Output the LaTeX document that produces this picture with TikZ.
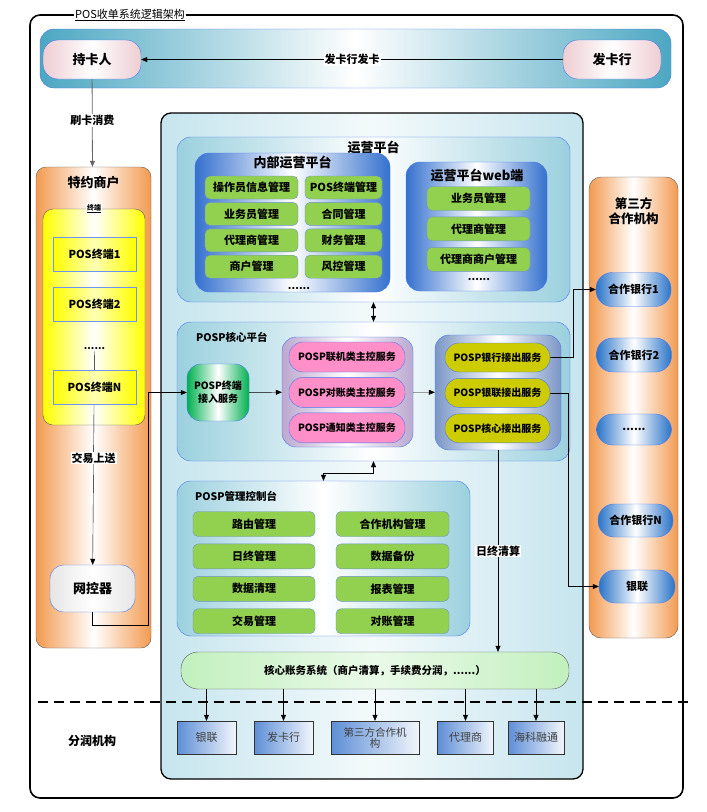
\documentclass[tikz,border=0pt]{standalone}
\usepackage{fontspec}
\setmainfont{Noto Sans CJK SC}
\usetikzlibrary{arrows.meta,positioning,fit}

\definecolor{blueb}{HTML}{4A78EE}
\definecolor{tealc}{HTML}{4CA7C2}
\definecolor{pinkc}{HTML}{EECDD2}
\definecolor{mainc}{HTML}{C6E5EE}
\definecolor{grpc}{HTML}{9BD0DE}
\definecolor{royal}{HTML}{3571CE}
\definecolor{itemg}{HTML}{92D050}
\definecolor{itemb}{HTML}{6F93C8}
\definecolor{pinkp}{HTML}{FF8FC9}
\definecolor{lav}{HTML}{BBA8D0}
\definecolor{slate}{HTML}{7B96C6}
\definecolor{olive}{HTML}{CCCC00}
\definecolor{accg}{HTML}{00B050}
\definecolor{orng}{HTML}{F39A50}
\definecolor{yel}{HTML}{FFFF00}
\definecolor{bankc}{HTML}{2A74C8}
\definecolor{lgreen}{HTML}{C2F0BE}
\definecolor{botb}{HTML}{5D8ED6}

\begin{document}
\begin{tikzpicture}[x=1pt,y=-1pt,>={Triangle[length=6pt,width=5pt]},
  area/.style={inner sep=0pt},
  grp/.style={area,draw=blueb,rounded corners=14pt,left color=grpc,right color=grpc,middle color=white},
  ttl/.style={inner sep=0pt,font=\bfseries\fontsize{13}{15}\selectfont},
  stl/.style={inner sep=0pt,font=\bfseries\fontsize{10.5}{12}\selectfont},
  itm/.style={draw=itemb,fill=itemg,rounded corners=5pt,inner sep=0pt,minimum width=#1,font=\bfseries\fontsize{11}{13}\selectfont},
  posbox/.style={draw=blueb!80,left color=yel,right color=yel,middle color=yel!30,minimum width=83pt,minimum height=34pt,inner sep=0pt,font=\bfseries\fontsize{11}{13}\selectfont},
  pinkpill/.style={draw=blueb,fill=pinkp,rounded corners=14pt,minimum width=116pt,minimum height=30pt,inner sep=0pt,font=\bfseries\fontsize{10}{12}\selectfont},
  olivepill/.style={draw=blueb,fill=olive,rounded corners=14pt,minimum width=105pt,minimum height=29pt,inner sep=0pt,font=\bfseries\fontsize{10}{12}\selectfont},
  bankpill/.style={draw=blueb,left color=bankc,right color=bankc,middle color=white,rounded corners=16pt,minimum width=75pt,minimum height=34pt,inner sep=0pt,font=\bfseries\fontsize{11}{13}\selectfont},
  share/.style={draw=black!80,left color=botb,right color=botb!8,minimum height=33pt,inner sep=0pt,align=center,text=black!75,font=\fontsize{11}{12}\selectfont},
  lbl/.style={fill=white,inner sep=1pt,font=\bfseries\fontsize{11}{13}\selectfont}]
\useasboundingbox (0,0) rectangle (707,812);

% outer frame
\node (frame) [area,fit={(30,15) (683,798)},draw,line width=1.6pt,rounded corners=10pt] {};
\node (title) [fill=white,inner sep=1pt,anchor=west,font=\fontsize{11}{13}\selectfont] at (74,15) {\underline{POS收单系统逻辑架构}};

% card holder / issuer
\node (band) [area,fit={(40,29) (671,88)},draw=blueb,rounded corners=14pt,left color=tealc,right color=tealc,middle color=white] {};
\node (holder) [draw=blueb,rounded corners=15pt,left color=pinkc,right color=pinkc,middle color=white,minimum width=98pt,minimum height=39pt,ttl] at (92,59.5) {持卡人};
\node (issuer) [draw=blueb,rounded corners=15pt,left color=pinkc,right color=pinkc,middle color=white,minimum width=98pt,minimum height=39pt,ttl] at (612,59.5) {发卡行};
\draw[->] (issuer) -- node[lbl] {发卡行发卡} (holder);

% merchant side
\node (merch) [area,fit={(36,167) (151,648)},draw=black!65,rounded corners=10pt,left color=orng,right color=orng,middle color=white] {};
\node (merchT) [ttl] at (93.5,183) {特约商户};
\draw[->,black!60,thick] (holder) -- node[lbl,text=black,pos=0.47] {刷卡消费} (merch);
\node (term) [area,fit={(43,209) (145,425)},draw=black!65,rounded corners=10pt,left color=yel,right color=yel,middle color=white] {};
\node (termT) [fill=white,inner sep=1pt,font=\bfseries\fontsize{7}{8}\selectfont] at (term.north) {\underline{终端}};
\node (pos1) [posbox] at (94.5,254) {POS终端1};
\node (pos2) [posbox,below=16pt of pos1] {POS终端2};
\node (posd) [inner sep=1pt,font=\bfseries\fontsize{10}{12}\selectfont] at (94.5,349) {......};
\node (ctl) [draw=blueb,rounded corners=14pt,left color=black!10,right color=black!10,middle color=white,minimum width=85pt,minimum height=47pt,ttl] at (92.5,588.5) {网控器};
\draw[->] (posd) -- node[lbl] {交易上送} (ctl);
\node (posN) [posbox] at (94.5,387) {POS终端N};

% main platform
\node (main) [area,fit={(161,113) (583,779)},draw,line width=1.3pt,rounded corners=10pt,left color=mainc,right color=mainc,middle color=mainc!20] {};

% operation platform
\node (ops) [grp,fit={(177,137) (570,302)}] {};
\node (opsT) [ttl] at (373.5,147) {运营平台};
\node (inner) [area,fit={(195,153) (390,292)},draw=blueb,rounded corners=14pt,left color=royal,right color=royal,middle color=white] {};
\node (innerT) [ttl] at (292.5,162) {内部运营平台};
\node (op1) [itm=93pt,minimum height=23pt] at (251.5,187.5) {操作员信息管理};
\node (op2) [itm=93pt,minimum height=23pt,below=3pt of op1] {业务员管理};
\node (op3) [itm=93pt,minimum height=23pt,below=3pt of op2] {代理商管理};
\node (op4) [itm=93pt,minimum height=23pt,below=3pt of op3] {商户管理};
\node (op5) [itm=77pt,minimum height=23pt] at (343.5,187.5) {POS终端管理};
\node (op6) [itm=77pt,minimum height=23pt,below=3pt of op5] {合同管理};
\node (op7) [itm=77pt,minimum height=23pt,below=3pt of op6] {财务管理};
\node (op8) [itm=77pt,minimum height=23pt,below=3pt of op7] {风控管理};
\node (innerD) [stl] at (299,288) {......};
\node (web) [area,fit={(406,162) (547,291)},draw=blueb,rounded corners=14pt,left color=royal,right color=royal,middle color=white] {};
\node (webT) [ttl] at (477,175) {运营平台web端};
\node (wb1) [itm=103pt,minimum height=24pt] at (478.5,198.5) {业务员管理};
\node (wb2) [itm=103pt,minimum height=24pt,below=6pt of wb1] {代理商管理};
\node (wb3) [itm=103pt,minimum height=24pt,below=6pt of wb2] {代理商商户管理};
\node (webD) [stl] at (479,279) {......};

% POSP core platform
\node (core) [grp,fit={(177,322) (570,461)}] {};
\node (coreT) [stl,anchor=west] at (196,337) {POSP核心平台};
\draw[<->] (ops) -- (core);
\node (acc) [draw=blueb,rounded corners=14pt,left color=accg,right color=accg,middle color=white,minimum width=62pt,minimum height=57pt,inner sep=0pt,align=center,font=\bfseries\fontsize{10}{13}\selectfont] at (218,392.5) {POSP终端\\接入服务};
\node (ctrl) [area,fit={(282,337) (413,447)},draw=blueb,rounded corners=14pt,left color=lav,right color=lav,middle color=white] {};
\node (pk1) [pinkpill] at (347,357) {POSP联机类主控服务};
\node (pk2) [pinkpill,below=5pt of pk1] {POSP对账类主控服务};
\node (pk3) [pinkpill,below=5pt of pk2] {POSP通知类主控服务};
\node (outg) [area,fit={(435,335) (561,450)},draw=blueb,rounded corners=14pt,left color=slate,right color=slate,middle color=white] {};
\node (bo1) [olivepill] at (497.5,357.5) {POSP银行接出服务};
\node (bo2) [olivepill,below=6pt of bo1] {POSP银联接出服务};
\node (bo3) [olivepill,below=6pt of bo2] {POSP核心接出服务};
\draw[->] (acc) -- (ctrl);
\draw[->] (ctrl) -- (outg);
\draw[->] (ctl.south) -- ++(0,13) -- ++(55.5,0) |- (acc.west);

% management console
\node (con) [grp,fit={(177,481) (470,636)}] {};
\node (conT) [stl,anchor=west] at (195,496) {POSP管理控制台};
\draw[<->] (core.south) -- ++(0,12) -| (con.north);
\node (mg1) [itm=122pt,minimum height=25pt] at (254,524) {路由管理};
\node (mg2) [itm=122pt,minimum height=25pt,below=7pt of mg1] {日终管理};
\node (mg3) [itm=122pt,minimum height=25pt,below=7pt of mg2] {数据清理};
\node (mg4) [itm=122pt,minimum height=25pt,below=7pt of mg3] {交易管理};
\node (mg5) [itm=113pt,minimum height=25pt] at (392.5,524) {合作机构管理};
\node (mg6) [itm=113pt,minimum height=25pt,below=7pt of mg5] {数据备份};
\node (mg7) [itm=113pt,minimum height=25pt,below=7pt of mg6] {报表管理};
\node (mg8) [itm=113pt,minimum height=25pt,below=7pt of mg7] {对账管理};

% core accounting
\node (acct) [draw=black!65,rounded corners=17pt,left color=lgreen,right color=lgreen,middle color=lgreen!35,minimum width=388pt,minimum height=37pt,inner sep=0pt,font=\bfseries\fontsize{10.5}{12}\selectfont] at (375,670.5) {核心账务系统（商户清算，手续费分润，......）};
\draw[->] (outg.south) -- node[lbl] {日终清算} (outg.south |- acct.north);

% third party
\node (third) [area,fit={(589,177) (678,638)},draw=black!65,rounded corners=12pt,left color=orng,right color=orng,middle color=white] {};
\node (thirdT) [align=center,inner sep=0pt,font=\bfseries\fontsize{12.5}{15}\selectfont] at (633.5,211) {第三方\\合作机构};
\node (cb1) [bankpill] at (633.5,289.5) {合作银行1};
\node (cb2) [bankpill] at (634,355) {合作银行2};
\node (cbd) [bankpill,minimum height=31pt] at (634,429.5) {......};
\node (cbN) [bankpill,minimum height=33pt] at (635.5,520.5) {合作银行N};
\node (cup) [bankpill,minimum height=33pt,minimum width=76pt] at (637,586.5) {银联};
\draw[->] (bo1.east) -- ++(23,0) |- (cb1.west);
\draw[->] (bo2.east) -- ++(18,0) |- (cup.west);

% profit sharing
\coordinate (cutL) at (38,702);
\coordinate (cutR) at (693,702);
\draw[line width=1.4pt,dash pattern=on 10pt off 6pt] (cutL) -- (cutR);
\node (shareT) [ttl,font=\bfseries\fontsize{12}{14}\selectfont] at (92,741) {分润机构};
\node (sh1) [share,minimum width=59pt] at (206.5,737.5) {银联};
\node (sh2) [share,minimum width=59pt] at (283.5,737.5) {发卡行};
\node (sh3) [share,minimum width=88pt,font=\fontsize{10.5}{11}\selectfont] at (375,737.5) {第三方合作机\\构};
\node (sh4) [share,minimum width=56pt] at (465.5,737.5) {代理商};
\node (sh5) [share,minimum width=56pt] at (536,737.5) {海科融通};
\draw[->] (acct.south -| sh1.north) -- (sh1.north);
\draw[->] (acct.south -| sh2.north) -- (sh2.north);
\draw[->] (acct.south -| sh3.north) -- (sh3.north);
\draw[->] (acct.south -| sh4.north) -- (sh4.north);
\draw[->] (acct.south -| sh5.north) -- (sh5.north);
\end{tikzpicture}
\end{document}
